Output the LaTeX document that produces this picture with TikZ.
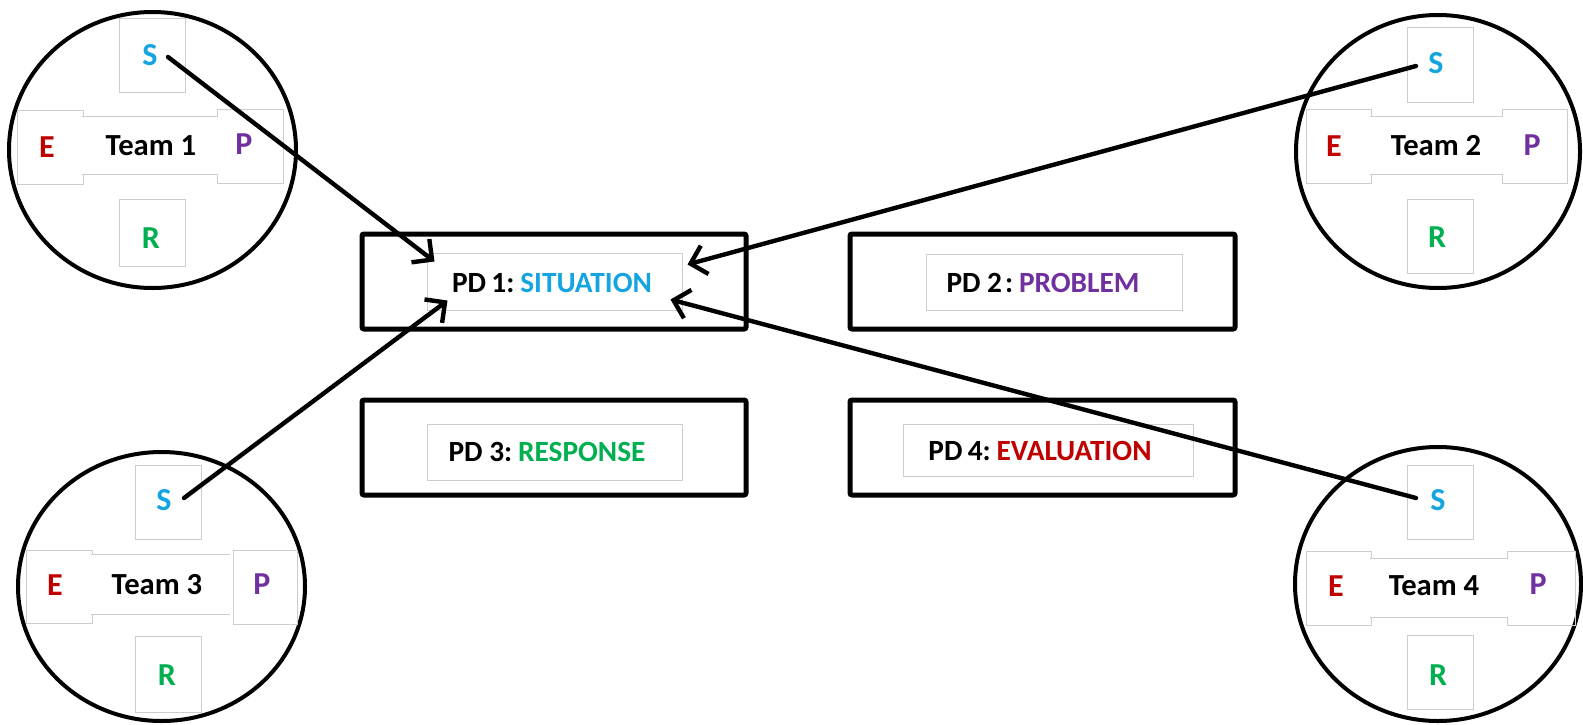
\documentclass[tikz,border=0pt]{standalone}
\usepackage{fontspec}
\setmainfont{Carlito}
\usetikzlibrary{arrows.meta,fit,shapes.geometric}
\definecolor{cS}{RGB}{20,165,225}
\definecolor{cP}{RGB}{112,48,160}
\definecolor{cE}{RGB}{192,0,0}
\definecolor{cR}{RGB}{0,176,80}
\definecolor{boxgray}{RGB}{205,205,205}
\tikzset{
  lbox/.style={draw=boxgray, line width=0.75pt, inner sep=0pt},
  ltext/.style={inner sep=0pt, font=\fontsize{24}{26}\selectfont\bfseries},
  band/.style={fill=white, inner sep=0pt},
  ttext/.style={inner sep=0pt, font=\fontsize{23}{25}\selectfont\bfseries},
  bandline/.style={draw=boxgray, line width=0.75pt},
  team/.style={ellipse, draw=black, line width=3pt, inner sep=0pt},
  pdbox/.style={draw=black, line width=3.75pt, rounded corners=1.5pt, inner sep=0pt},
  pdin/.style={draw=boxgray, line width=0.75pt, inner sep=0pt},
  pdtext/.style={inner sep=0pt, font=\fontsize{22}{24}\selectfont\bfseries},
  link/.style={line width=3.3pt, line cap=round, -{Straight Barb[length=11pt,width=22pt]}}
}
\begin{document}
\begin{tikzpicture}[x=0.75pt,y=-0.75pt]
\fill[white] (0,0) rectangle (1583,724);
\useasboundingbox (0,0) rectangle (1583,724);

% ---------- Team 1 ----------
\node[team, minimum width=215.25pt, minimum height=207pt] (t1) at (152.5,150) {};
\node[lbox, fit={(119,19)(185,92)}] (t1s) {};
\node[lbox, fit={(17,110)(83,184)}] (t1e) {};
\node[lbox, fit={(217,109)(283,183)}] (t1p) {};
\node[lbox, fit={(119,199)(185,266)}] (t1r) {};
\node[band, fit={(82,117)(218,174)}] (t1b) {};
\draw[bandline] (t1b.north west) -- (t1b.north east) (t1b.south west) -- (t1b.south east);
\node[ltext, text=cS] (t1sl) at (150,55) {S};
\node[ltext, text=cE] (t1el) at (47,147) {E};
\node[ltext, text=cP] (t1pl) at (244,144) {P};
\node[ltext, text=cR] (t1rl) at (151,238) {R};
\node[ttext] (t1bl) at (151,146) {Team 1};

% ---------- Team 2 ----------
\node[team, minimum width=213pt, minimum height=204.75pt] (t2) at (1438,151.5) {};
\node[lbox, fit={(1407,28)(1473,102)}] (t2s) {};
\node[lbox, fit={(1306,109)(1371,183)}] (t2e) {};
\node[lbox, fit={(1502,109)(1567,183)}] (t2p) {};
\node[lbox, fit={(1407,199)(1473,273)}] (t2r) {};
\node[band, fit={(1370,117)(1503,174)}] (t2b) {};
\draw[bandline] (t2b.north west) -- (t2b.north east) (t2b.south west) -- (t2b.south east);
\node[ltext, text=cS] (t2sl) at (1436,63) {S};
\node[ltext, text=cE] (t2el) at (1334,146) {E};
\node[ltext, text=cP] (t2pl) at (1532,145) {P};
\node[ltext, text=cR] (t2rl) at (1437,237) {R};
\node[ttext] (t2bl) at (1436,146) {Team 2};

% ---------- Team 3 ----------
\node[team, minimum width=215.25pt, minimum height=201.75pt] (t3) at (161.5,586.5) {};
\node[lbox, fit={(135,465)(201,539)}] (t3s) {};
\node[lbox, fit={(26,550)(92,623)}] (t3e) {};
\node[lbox, fit={(233,550)(297,624)}] (t3p) {};
\node[lbox, fit={(135,636)(201,712)}] (t3r) {};
\node[band, fit={(91,555)(230,614)}] (t3b) {};
\draw[bandline] (t3b.north west) -- (t3b.north east) (t3b.south west) -- (t3b.south east);
\node[ltext, text=cS] (t3sl) at (164,500) {S};
\node[ltext, text=cE] (t3el) at (55,585) {E};
\node[ltext, text=cP] (t3pl) at (262,584) {P};
\node[ltext, text=cR] (t3rl) at (167,675) {R};
\node[ttext] (t3bl) at (157,585) {Team 3};

% ---------- Team 4 ----------
\node[team, minimum width=214.5pt, minimum height=205.5pt] (t4) at (1438,584) {};
\node[lbox, fit={(1407,465)(1473,539)}] (t4s) {};
\node[lbox, fit={(1306,551)(1371,625)}] (t4e) {};
\node[lbox, fit={(1507,551)(1575,625)}] (t4p) {};
\node[lbox, fit={(1407,635)(1473,709)}] (t4r) {};
\node[band, fit={(1370,559)(1508,617)}] (t4b) {};
\draw[bandline] (t4b.north west) -- (t4b.north east) (t4b.south west) -- (t4b.south east);
\node[ltext, text=cS] (t4sl) at (1438,500) {S};
\node[ltext, text=cE] (t4el) at (1336,586) {E};
\node[ltext, text=cP] (t4pl) at (1538,584) {P};
\node[ltext, text=cR] (t4rl) at (1438,675) {R};
\node[ttext] (t4bl) at (1434,586) {Team 4};

% ---------- PD boxes ----------
\node[pdbox, fit={(362,234)(746,329)}] (pd1) {};
\node[pdbox, fit={(850,234)(1235,329)}] (pd2) {};
\node[pdbox, fit={(362,400)(746,495)}] (pd3) {};
\node[pdbox, fit={(850,400)(1235,495)}] (pd4) {};
\node[pdin, fit={(427,253)(682,310)}] (pd1i) {};
\node[pdin, fit={(926,254)(1182,310)}] (pd2i) {};
\node[pdin, fit={(427,424)(682,480)}] (pd3i) {};
\node[pdin, fit={(903,424)(1193,476)}] (pd4i) {};
\node[pdtext] (pd1t) at (552,283) {PD\hspace{0.18em}1:\hspace{0.2em}\textcolor{cS}{SITUATION}};
\node[pdtext] (pd2t) at (1043,283) {PD 2\hspace{0.1em}:\hspace{0.2em}\textcolor{cP}{PROBLEM}};
\node[pdtext] (pd3t) at (547,452) {PD 3:\hspace{0.2em}\textcolor{cR}{RESPONSE}};
\node[pdtext] (pd4t) at (1040,451) {PD\hspace{0.18em}4:\hspace{0.2em}\textcolor{cE}{EVALUATION}};

% ---------- arrows ----------
\coordinate (a1s) at ([shift={(16,1.5)}]t1s.center);
\coordinate (a1e) at ([shift={(8,9)}]pd1i.north west);
\coordinate (a2s) at ([shift={(-24,1)}]t2s.center);
\coordinate (a2e) at ([shift={(5,12)}]pd1i.north east);
\coordinate (a3s) at ([shift={(16,-4)}]t3s.center);
\coordinate (a3e) at ([shift={(21,-10)}]pd1i.south west);
\coordinate (a4s) at ([shift={(-24,-4)}]t4s.center);
\coordinate (a4e) at ([shift={(-12,-11)}]pd1i.south east);
\draw[link] (a1s) -- (a1e);
\draw[link] (a2s) -- (a2e);
\draw[link] (a3s) -- (a3e);
\draw[link] (a4s) -- (a4e);
\end{tikzpicture}
\end{document}
